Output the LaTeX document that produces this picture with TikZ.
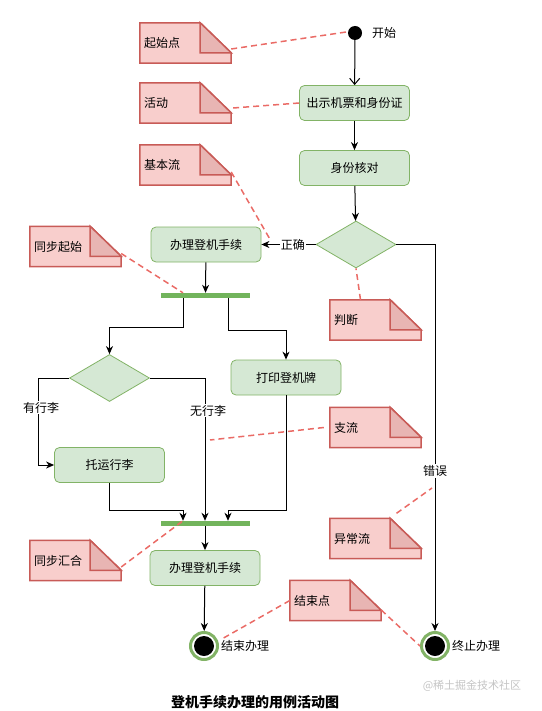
\documentclass[tikz,border=0pt]{standalone}
\usepackage{fontspec}
\newfontfamily\cjk{Noto Sans CJK SC}
\usetikzlibrary{shapes.geometric,arrows.meta,calc}
\pgfdeclarelayer{background}
\pgfsetlayers{background,main}
\definecolor{gfill}{HTML}{D5E8D4}
\definecolor{gline}{HTML}{82B366}
\definecolor{barc}{HTML}{72B45C}
\definecolor{nfill}{HTML}{F8CECC}
\definecolor{nstroke}{HTML}{C85B57}
\definecolor{nfold}{HTML}{E8B5B3}
\definecolor{dashc}{HTML}{EA6B66}
\definecolor{wm}{HTML}{C4C4C4}
\tikzset{
  every node/.style={font=\cjk\fontsize{12}{14}\selectfont},
  act/.style={rectangle, rounded corners=5pt, draw=gline, fill=gfill, line width=0.8pt,
    minimum width=110pt, minimum height=35pt, inner sep=0},
  dec/.style={diamond, draw=gline, fill=gfill, line width=0.8pt,
    minimum width=80pt, minimum height=47pt, inner sep=0},
  bar/.style={rectangle, fill=barc, minimum width=89pt, minimum height=5pt, inner sep=0},
  notebase/.style={rectangle, minimum width=91pt, minimum height=40pt, inner xsep=4pt,
    inner ysep=0, text width=83pt, align=left},
  startc/.style={circle, fill=black, minimum size=14pt, inner sep=0},
  endc/.style={circle, draw=gline, line width=3pt, fill=white, minimum size=27pt, inner sep=0,
    path picture={\fill[black] (path picture bounding box.center) circle (10pt);}},
  flow/.style={draw=black, line width=1pt, -{Stealth[length=8pt,width=7pt,inset=2.5pt]}},
  openflow/.style={draw=black, line width=1pt, -{Straight Barb[length=6pt,width=10pt]}},
  ann/.style={draw=dashc, line width=1.5pt, dash pattern=on 6pt off 4pt},
  lbl/.style={fill=white, inner sep=1pt},
  side/.style={anchor=west, inner sep=0},
}
\newcommand{\drawnote}[1]{%
  \begin{pgfonlayer}{background}
  \draw[draw=nstroke, fill=nfill, line width=1.5pt, line join=miter]
    (#1.north west) -- ([xshift=-31pt]#1.north east) -- ([yshift=-30pt]#1.north east)
    -- (#1.south east) -- (#1.south west) -- cycle;
  \draw[draw=nstroke, fill=nfold, line width=1.5pt, line join=miter]
    ([xshift=-31pt]#1.north east) -- ([xshift=-31pt,yshift=-30pt]#1.north east)
    -- ([yshift=-30pt]#1.north east) -- cycle;
  \end{pgfonlayer}}
\begin{document}
\begin{tikzpicture}[x=1pt,y=-1pt]
\useasboundingbox (0,0) rectangle (541,711);

% activity nodes
\node[startc] (start) at (355,33) {};
\node[side] (tstart) at (372,33) {开始};
\node[act] (b1) at (354.5,103) {出示机票和身份证};
\node[act] (b2) at (354.5,168) {身份核对};
\node[dec] (d1) at (356,244.5) {};
\node[act] (b3) at (206,244.5) {办理登机手续};
\node[bar] (bar1) at (205.5,295.5) {};
\node[dec] (d2) at (109.5,378) {};
\node[act] (b4) at (286,377.5) {打印登机牌};
\node[act] (b5) at (109.5,465) {托运行李};
\node[bar] (bar2) at (205.5,523.5) {};
\node[act] (b6) at (205,568) {办理登机手续};
\node[endc] (end1) at (204,646) {};
\node[side] (tend1) at (221,646) {结束办理};
\node[endc] (end2) at (435,646) {};
\node[side] (tend2) at (452,646) {终止办理};

% notes
\node[notebase] (n1) at (185.5,43) {起始点};
\node[notebase] (n2) at (185.5,103) {活动};
\node[notebase] (n3) at (185.5,165) {基本流};
\node[notebase] (n4) at (75.5,246.5) {同步起始};
\node[notebase] (n5) at (375.5,320) {判断};
\node[notebase] (n6) at (375.5,427.5) {支流};
\node[notebase] (n7) at (375.5,538.5) {异常流};
\node[notebase] (n8) at (75.5,560.5) {同步汇合};
\node[notebase] (n9) at (335.5,600.5) {结束点};
\drawnote{n1}\drawnote{n2}\drawnote{n3}\drawnote{n4}\drawnote{n5}
\drawnote{n6}\drawnote{n7}\drawnote{n8}\drawnote{n9}

% flow connectors
\draw[openflow] (start) -- (b1);
\draw[flow] (b1) -- (b2);
\draw[flow] (b2) -- (d1);
\draw[flow] (d1.west) -- node[lbl,pos=0.42] (lok) {正确} (b3.east);
\draw[flow] (d1.east) -| node[lbl,pos=0.793] (lerr) {错误} (end2.north);
\draw[flow] (b3) -- (bar1);
\draw[flow] ([xshift=-22.5pt]bar1.south) -- ++(0,29) -| (d2.north);
\draw[flow] ([xshift=22.5pt]bar1.south) -- ++(0,32) -| (b4.north);
\draw[flow] (d2.west) -- ++(-31,0) |- node[lbl,pos=0.17,xshift=3pt] (lyes) {有行李} (b5.west);
\draw[flow] (d2.east) -| node[lbl,pos=0.615,xshift=3pt] (lno) {无行李} ([xshift=-0.5pt]bar2.north);
\draw[flow] (b5.south) -- ++(0,28) -| ([xshift=-22.5pt]bar2.north);
\draw[flow] (b4.south) -- ++(0,115) -| ([xshift=22.5pt]bar2.north);
\draw[flow] ([xshift=-0.5pt]bar2.south) -- (b6.north);
\draw[flow] (b6) -- (end1);

% annotation connectors
\coordinate (c6) at (210,440);
\coordinate (c7) at (432,488);
\draw[ann] ([yshift=-6pt]n1.east) -- (start.170);
\draw[ann] ([xshift=2pt,yshift=-5pt]n2.east) -- (b1.west);
\draw[ann] ([yshift=-7pt]n3.east) -- ([xshift=9pt,yshift=4.5pt]b3.east);
\draw[ann] ([yshift=-7pt]n4.east) -- ([xshift=-22.5pt]bar1.north);
\draw[ann] ([xshift=-15pt]n5.north) -- (d1.south);
\draw[ann] ([xshift=-6pt]n6.west) -- (c6);
\draw[ann] ([xshift=21pt,yshift=5pt]n7.north) -- (c7);
\draw[ann] ([yshift=-6.5pt]n8.east) -- ([xshift=-22.5pt]bar2.north);
\draw[ann] (n9.west) -- ([xshift=3pt]end1.25);
\draw[ann] ([yshift=-9.5pt]n9.east) -- (end2.west);

% caption and watermark
\node[font=\cjk\bfseries\fontsize{14}{16}\selectfont] (cap) at (255,702) {登机手续办理的用例活动图};
\node[font=\cjk\fontsize{11}{13}\selectfont, text=wm] (wmark) at (472,686) {@稀土掘金技术社区};
\end{tikzpicture}
\end{document}
